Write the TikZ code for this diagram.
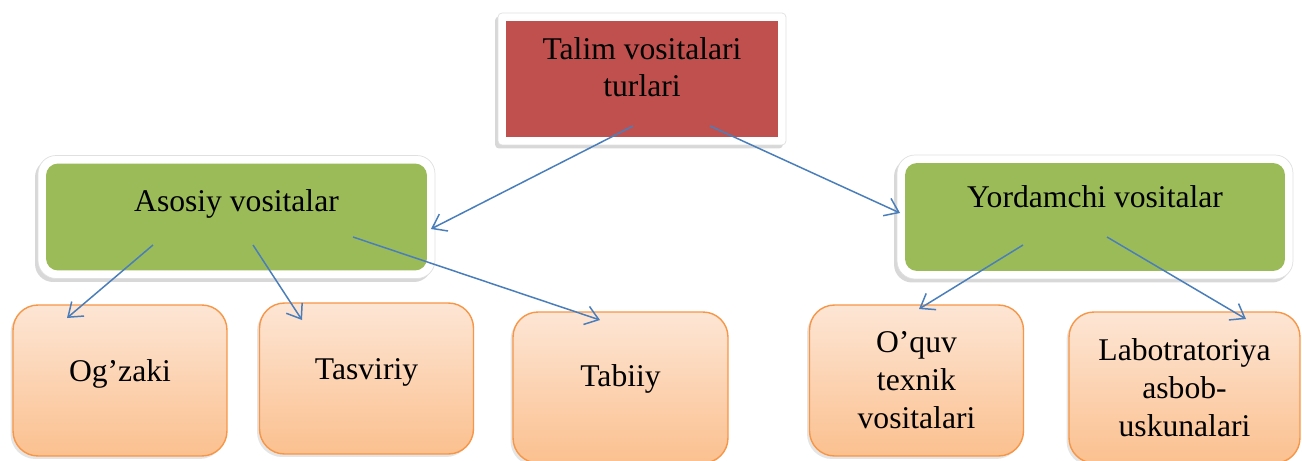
\documentclass[tikz,border=0pt]{standalone}
\usepackage{fontspec}
\setmainfont{Liberation Serif}
\usetikzlibrary{arrows.meta,shadows,fit,backgrounds}

\definecolor{redfill}{HTML}{C0504D}
\definecolor{greenfill}{HTML}{9BBB59}
\definecolor{orangeline}{HTML}{F79646}
\definecolor{orangetop}{HTML}{FDE6D5}
\definecolor{orangebot}{HTML}{FBC08F}
\definecolor{arrowblue}{HTML}{4A7EBB}

\tikzset{
  basebox/.style={font=\fontsize{18}{21.6}\selectfont, align=center, inner sep=0pt, outer sep=0pt},
  redbox/.style={basebox, fill=redfill, minimum width=5.44cm, minimum height=2.32cm},
  greenbox/.style={basebox, fill=greenfill, rounded corners=0.24cm, minimum width=7.62cm, minimum height=2.14cm, text height=0.24cm, text depth=0.48cm},
  orangebox/.style={basebox, draw=orangeline, line width=0.8pt, top color=orangetop, bottom color=orangebot,
    rounded corners=0.5cm, minimum width=4.28cm, minimum height=3.02cm,
    drop shadow={shadow xshift=-0.05cm, shadow yshift=-0.06cm, opacity=0.2}},
  oneline/.style={text height=0.4cm, text depth=0.36cm},
  framebox/.style={fill=white, draw=black!12, line width=0.4pt, inner sep=0.16cm,
    drop shadow={shadow xshift=-0.06cm, shadow yshift=-0.07cm, opacity=0.3}},
  arr/.style={-{Straight Barb[length=0.26cm, width=0.38cm]}, draw=arrowblue, line width=0.85pt},
}

\begin{document}
\begin{tikzpicture}[x=0.02cm, y=-0.02cm]
  \useasboundingbox (0,0) rectangle (1302,460);
  \clip (0,0) rectangle (1302,460);

  % top
  \node(talim)[redbox, text height=1.2cm, text depth=0.48cm] at (642,79) {Talim vositalari\\turlari};

  % second row
  \node(asosiy)[greenbox] at (236.5,217) {Asosiy vositalar};
  \node(yordamchi)[greenbox, minimum width=7.6cm, minimum height=2.16cm, text depth=0.64cm] at (1095,217) {Yordamchi vositalar};

  % third row
  \node(ogzaki)[orangebox, oneline] at (120,380.5) {Og’zaki};
  \node(tasviriy)[orangebox, oneline] at (366.5,378.5) {Tasviriy};
  \node(tabiiy)[orangebox, text height=0.36cm, text depth=0.4cm, minimum width=4.3cm] at (620.5,387.5) {Tabiiy};
  \node(oquv)[orangebox] at (916.5,380.5) {O’quv\\texnik\\vositalari};
  \node(labo)[orangebox, minimum width=4.62cm] at (1184.5,387.5) {Labotratoriya\\asbob-\\uskunalari};

  % white frames
  \begin{scope}[on background layer]
    \fill[white] (0,0) rectangle (1302,460);
    \node(talimframe)[framebox, rounded corners=0.08cm, fit=(talim)] {};
    \node(asosiyframe)[framebox, rounded corners=0.36cm, fit=(asosiy)] {};
    \node(yordamchiframe)[framebox, rounded corners=0.36cm, fit=(yordamchi)] {};
  \end{scope}

  \draw[arr] ([shift={(-9,-11)}]talim.south) -- ([shift={(4,12)}]asosiy.east);
  \draw[arr] ([shift={(68,-11)}]talim.south) -- ([shift={(-5,-4)}]yordamchi.west);
  \draw[arr] ([shift={(-83.5,28)}]asosiy.center) -- ([shift={(-53,13)}]ogzaki.north);
  \draw[arr] ([shift={(16.5,28)}]asosiy.center) -- ([shift={(-64.5,17)}]tasviriy.north);
  \draw[arr] ([shift={(116.5,20)}]asosiy.center) -- ([shift={(-20.5,8)}]tabiiy.north);
  \draw[arr] ([shift={(-72,28)}]yordamchi.center) -- ([shift={(2.5,4)}]oquv.north);
  \draw[arr] ([shift={(12,20)}]yordamchi.center) -- ([shift={(61.5,7)}]labo.north);
\end{tikzpicture}
\end{document}
